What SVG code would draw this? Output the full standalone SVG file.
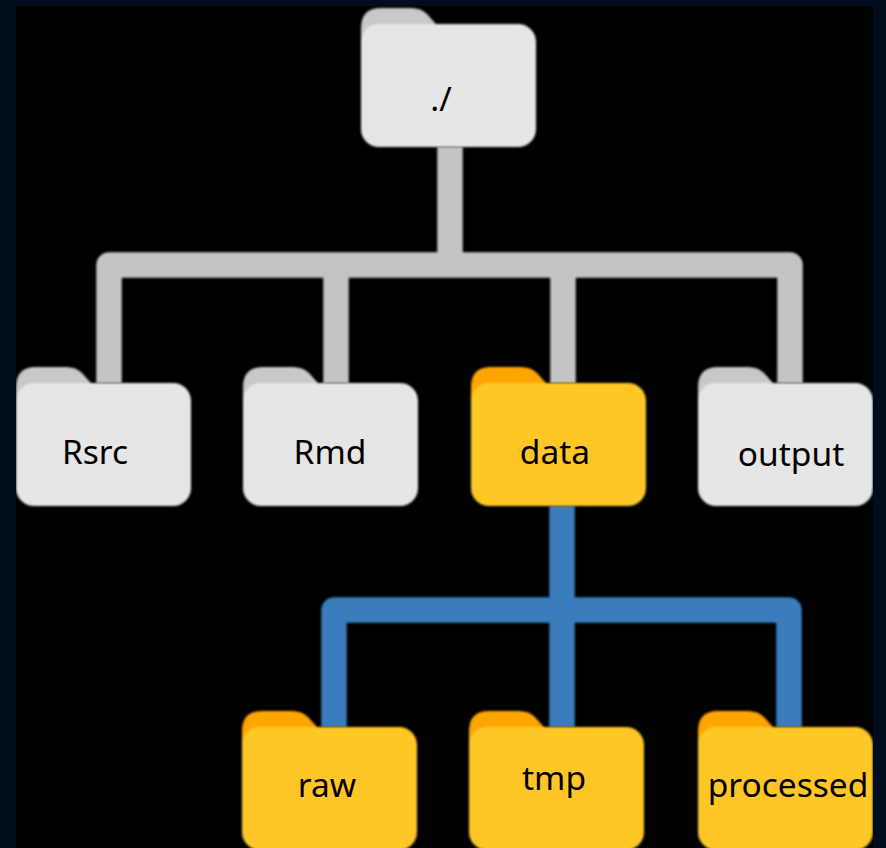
<svg xmlns="http://www.w3.org/2000/svg" width="886" height="848" viewBox="0 0 886 848">
<style>
.back{fill:#000d21}
.stage{fill:#000}
.g{--tab:#c8c8c8;--body:#e6e6e6}
.y{--tab:#ffa500;--body:#ffc727}
.tab{fill:var(--tab)}
.body{fill:var(--body)}
.soft{filter:url(#soft)}
.lbl{font-family:"Noto Sans","Open Sans",sans-serif;font-size:33.5px;fill:#000;text-anchor:middle}
.wire{fill:none;stroke-width:25.5;stroke-linejoin:round}
.wg{stroke:#c4c4c4}
.wb{stroke:#3a7cbc}
</style>
<defs>
<filter id="soft" x="-5%" y="-5%" width="110%" height="110%"><feGaussianBlur stdDeviation="0.8"/></filter>
<g id="folder">
<path class="tab" d="M0 30V20Q0 0 20 0H50Q60 0 66 6L82 24V40H0Z"/>
<rect class="body" x="0" y="16" width="175" height="123" rx="18"/>
</g>
</defs>
<rect class="back" width="886" height="848"/>
<rect class="stage" x="16" y="6" width="857" height="842"/>
<g id="connectors" class="soft">
<path class="wire wg" d="M450 147V265M109 383V265H790V383M336 265V383M563 265V383"/>
<path class="wire wb" d="M562 506V610M334 727V610H789V727M562 610V727"/>
</g>
<g id="root" class="g"><use class="soft" href="#folder" x="361" y="8"/><text class="lbl" x="441" y="111">./</text></g>
<g id="rsrc" class="g"><use class="soft" href="#folder" x="16" y="367"/><text class="lbl" x="95" y="464">Rsrc</text></g>
<g id="rmd" class="g"><use class="soft" href="#folder" x="243" y="367"/><text class="lbl" x="330" y="464">Rmd</text></g>
<g id="data" class="y"><use class="soft" href="#folder" x="471" y="367"/><text class="lbl" x="555" y="464">data</text></g>
<g id="output" class="g"><use class="soft" href="#folder" x="698" y="367"/><text class="lbl" x="791" y="466">output</text></g>
<g id="raw" class="y"><use class="soft" href="#folder" x="242" y="711"/><text class="lbl" x="327" y="797">raw</text></g>
<g id="tmp" class="y"><use class="soft" href="#folder" x="469" y="711"/><text class="lbl" x="554" y="790">tmp</text></g>
<g id="processed" class="y"><use class="soft" href="#folder" x="698" y="711"/><text class="lbl" x="788" y="797">processed</text></g>
<rect class="back" x="0" y="0" width="16" height="848"/>
<rect class="back" x="873" y="0" width="13" height="848"/>
</svg>
